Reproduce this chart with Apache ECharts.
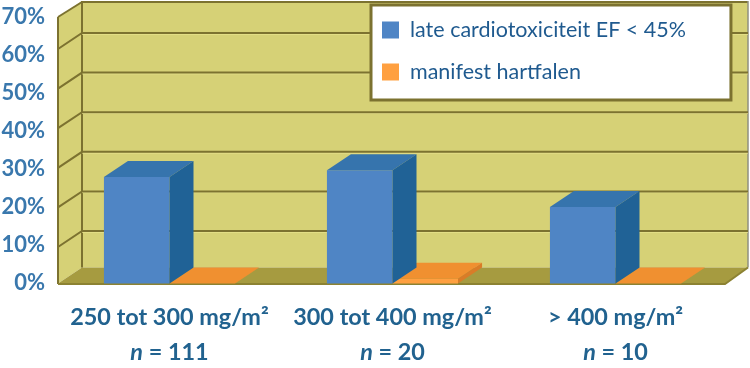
<!DOCTYPE html>
<html><head><meta charset="utf-8">
<style>html,body{margin:0;padding:0;background:#fff}#c{width:750px;height:368px}</style>
<script src="https://cdn.jsdelivr.net/npm/echarts@6/dist/echarts.min.js"></script>
</head><body><div id="c"></div>
<script>
const categories = ['250 tot 300 mg/m²', '300 tot 400 mg/m²', '> 400 mg/m²'];
const sampleSizes = ['111', '20', '10'];
const lateCardio = [27.7, 29.4, 20.1];
const heartFailure = [0, 2.0, 0];
const gridTicks = [10, 20, 30, 40, 50, 60];
const seriesNames = ['late cardiotoxiciteit EF < 45%', 'manifest hartfalen'];

const FONT = 'Lato';
const DX = 24, DY = -16;              // 3D depth offset
const LEFT = 58, RIGHT = 727, FLOOR = 283.5, TOP = 17;
const WALL = '#d6d176', LINE = '#7c7230', FLOORC = '#a69b40', HILITE = '#e9e48f';
const chart = echarts.init(document.getElementById('c'), null, {renderer: 'canvas'});

const poly = (points, fill, stroke, w) => ({type: 'polygon', shape: {points},
  style: {fill, stroke: stroke || null, lineWidth: w || 0}});
const line = (points, stroke, w) => ({type: 'polyline', shape: {points},
  style: {fill: null, stroke, lineWidth: w, lineJoin: 'miter'}});

function renderWalls() {
  return {type: 'group', silent: true, children: [
    poly([[LEFT + DX, TOP + DY], [RIGHT + DX - 3, TOP + DY], [RIGHT + DX - 3, FLOOR + DY], [LEFT + DX, FLOOR + DY]], WALL),
    poly([[LEFT, TOP], [LEFT + DX, TOP + DY], [LEFT + DX, FLOOR + DY], [LEFT, FLOOR]], WALL),
    poly([[LEFT, FLOOR], [LEFT + DX, FLOOR + DY], [RIGHT + DX - 3, FLOOR + DY], [RIGHT - 2, FLOOR]], FLOORC),
    line([[LEFT + DX, TOP + DY + 1], [RIGHT + DX - 3, TOP + DY + 1]], LINE, 2),
    line([[LEFT, TOP], [LEFT + DX, TOP + DY + 1]], LINE, 2),
    line([[LEFT, TOP], [LEFT, FLOOR + 0.5]], LINE, 2),
    line([[LEFT + DX, TOP + DY], [LEFT + DX, FLOOR + DY]], LINE, 2),
    line([[RIGHT + DX - 3, TOP + DY], [RIGHT + DX - 3, FLOOR + DY]], '#8f8f80', 1.5),
    line([[LEFT, FLOOR + 0.5], [RIGHT - 2, FLOOR + 0.5], [RIGHT + DX - 3, FLOOR + DY]], '#8c8232', 2)
  ]};
}
function renderGrid(params, api) {
  const y = api.coord([0, api.value(0)])[1];
  return {type: 'group', silent: true, children: [
    line([[LEFT + DX, y + DY + 1.2], [RIGHT + DX - 3, y + DY + 1.2]], HILITE, 1),
    line([[LEFT, y], [LEFT + DX, y + DY], [RIGHT + DX - 3, y + DY]], LINE, 2)
  ]};
}
function barRenderer(side, front, top, dark) {
  return function (params, api) {
    const c = api.coord([api.value(0), api.value(1)]);
    const w = api.size([1, 0])[0] * 0.294;
    const x0 = c[0] + (side < 0 ? -w : 0), x1 = x0 + w;
    const y = Math.min(c[1], FLOOR);
    return {type: 'group', children: [
      poly([[x0, y], [x1, y], [x1, FLOOR], [x0, FLOOR]], front),
      poly([[x0, y], [x0 + DX, y + DY], [x1 + DX, y + DY], [x1, y]], top),
      poly([[x1, y], [x1 + DX, y + DY], [x1 + DX, FLOOR + DY], [x1, FLOOR]], dark)
    ]};
  };
}

chart.setOption({
  animation: false,
  grid: [
    {left: LEFT, width: RIGHT - LEFT, top: 9.4, bottom: 81.4},
    {left: 52, width: 1, top: TOP, bottom: 368 - 283}
  ],
  xAxis: [
    {type: 'category', gridIndex: 0, data: categories, axisLine: {show: false}, axisTick: {show: false},
     axisLabel: {margin: 13, interval: 0, hideOverlap: false,
       formatter: (v, i) => '{b|' + v + '}\n{i|n}{b| = ' + sampleSizes[i] + '}',
       rich: {
         b: {fontFamily: FONT, fontSize: 23.4, fontWeight: 'bold', color: '#21628f', lineHeight: 35},
         i: {fontFamily: FONT, fontSize: 23.4, fontWeight: 'bold', fontStyle: 'italic', color: '#21628f', lineHeight: 35}
       }}},
    {type: 'category', gridIndex: 1, data: [''], show: false}
  ],
  yAxis: [
    {type: 'value', gridIndex: 0, min: 0, max: 70, interval: 10, show: false},
    {type: 'value', gridIndex: 1, min: 0, max: 70, interval: 10,
     axisLine: {show: false}, axisTick: {show: false}, splitLine: {show: false},
     axisLabel: {margin: 8, formatter: '{value}%', fontFamily: FONT, fontSize: 22, fontWeight: 'bold', color: '#3a78ad'}}
  ],
  legend: {
    orient: 'vertical', left: 371, top: 5, padding: [14, 45, 17, 11], itemGap: 20,
    backgroundColor: '#fff', borderColor: LINE, borderWidth: 3, borderRadius: 0,
    itemWidth: 17, itemHeight: 17, selectedMode: false,
    textStyle: {fontFamily: FONT, fontSize: 21.5, color: '#1f5a8f', padding: [0, 0, 0, 6]},
    data: [
      {name: seriesNames[0], icon: 'rect', itemStyle: {color: '#4f85c5'}},
      {name: seriesNames[1], icon: 'rect', itemStyle: {color: '#ffa040'}}
    ]
  },
  series: [
    {type: 'custom', name: 'walls', z: 1, clip: false, silent: true, coordinateSystem: 'cartesian2d',
     data: [[0, 0]], renderItem: renderWalls},
    {type: 'custom', name: 'grid', z: 2, clip: false, silent: true, coordinateSystem: 'cartesian2d',
     encode: {x: 1, y: 0}, data: gridTicks.map(t => [t, 0]), renderItem: renderGrid},
    {type: 'custom', name: seriesNames[1], z: 3, clip: false, itemStyle: {color: '#ffa040'},
     encode: {x: 0, y: 1}, data: heartFailure.map((v, i) => [i, v]),
     renderItem: barRenderer(1, '#ffa040', '#f09030', '#d97c28')},
    {type: 'custom', name: seriesNames[0], z: 4, clip: false, itemStyle: {color: '#4f85c5'},
     encode: {x: 0, y: 1}, data: lateCardio.map((v, i) => [i, v]),
     renderItem: barRenderer(-1, '#4f85c5', '#3674ad', '#206296')}
  ]
});
</script></body></html>
